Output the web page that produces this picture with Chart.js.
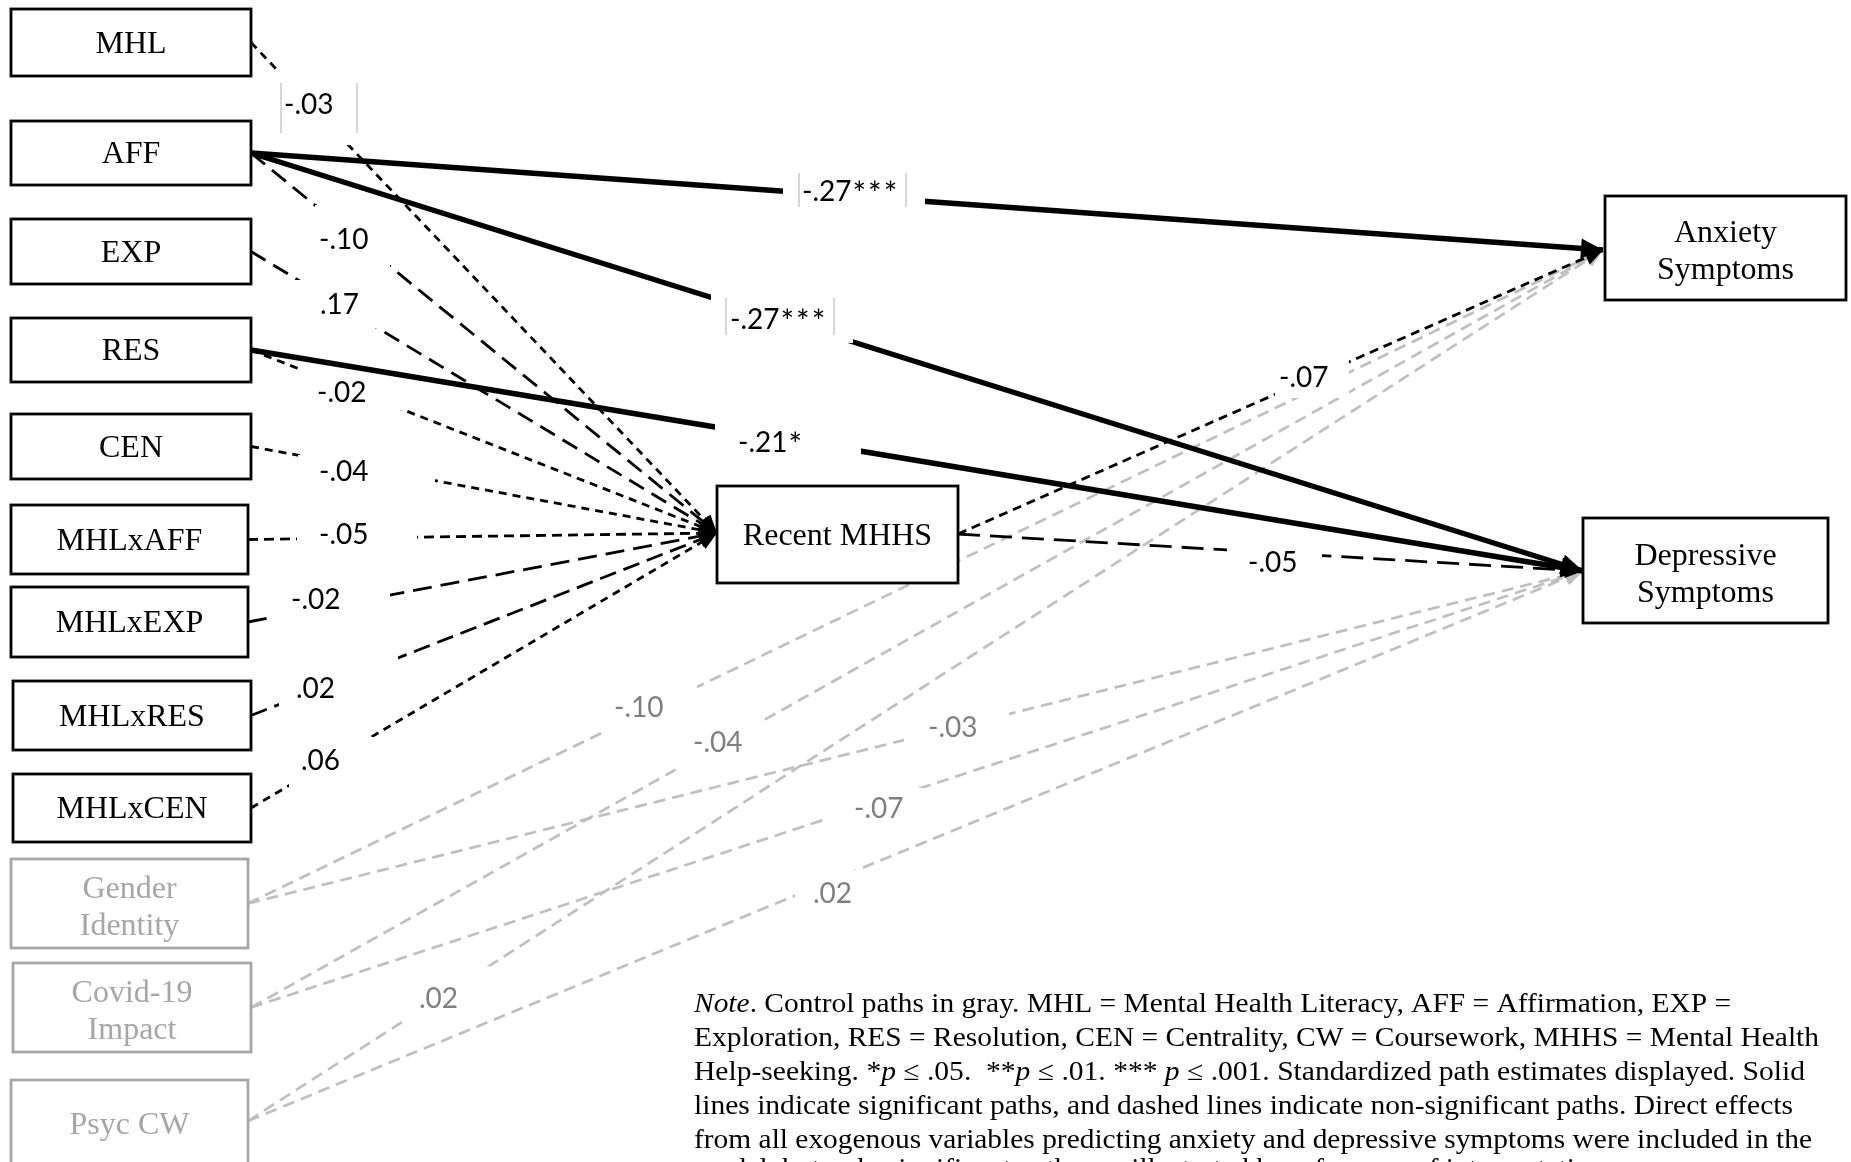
<!DOCTYPE html>
<html><head><meta charset="utf-8">
<script src="https://cdn.jsdelivr.net/npm/chart.js@4.4.1/dist/chart.umd.min.js"></script>
<style>html,body{margin:0;padding:0;background:#fff;overflow:hidden}canvas{display:block}</style>
</head><body>
<canvas id="c" width="1851" height="1162"></canvas>
<script>
// ---------------- DATA ----------------
const predictors = ['MHL','AFF','EXP','RES','CEN','MHLxAFF','MHLxEXP','MHLxRES','MHLxCEN'];
const predictorToMHHS = ['-.03','-.10','.17','-.02','-.04','-.05','-.02','.02','.06'];
const mediator = 'Recent MHHS';
const outcomes = ['Anxiety Symptoms','Depressive Symptoms'];
const mediatorToOutcome = ['-.07','-.05'];
const sigFrom = ['AFF','AFF','RES'];
const sigTo = ['Anxiety Symptoms','Depressive Symptoms','Depressive Symptoms'];
const sigEstimate = ['-.27***','-.27***','-.21*'];
const controls = ['Gender Identity','Covid-19 Impact','Psyc CW'];
const controlToAnxiety = ['-.10','-.04','.02'];
const controlToDepression = ['-.03','-.07','.02'];
const noteLines = [
  '<i>Note</i>. Control paths in gray. MHL = Mental Health Literacy, AFF = Affirmation, EXP =',
  'Exploration, RES = Resolution, CEN = Centrality, CW = Coursework, MHHS = Mental Health',
  'Help-seeking. *<i>p</i> ≤ .05.  **<i>p</i> ≤ .01. *** <i>p</i> ≤ .001. Standardized path estimates displayed. Solid',
  'lines indicate significant paths, and dashed lines indicate non-significant paths. Direct effects',
  'from all exogenous variables predicting anxiety and depressive symptoms were included in the',
  'model, but only significant paths are illustrated here for ease of interpretation.'
];

// ---------------- LAYOUT (positions / styles) ----------------
const nodeBox = {
  'MHL':[11,9,251,76], 'AFF':[11,121,251,185], 'EXP':[11,219,251,284], 'RES':[11,318,251,382],
  'CEN':[11,414,251,479], 'MHLxAFF':[11,505,248,574], 'MHLxEXP':[11,587,248,657],
  'MHLxRES':[13,681,251,750], 'MHLxCEN':[13,774,251,842],
  'Gender Identity':[11,859,248,948], 'Covid-19 Impact':[13,963,251,1052], 'Psyc CW':[11,1080,248,1178],
  'Recent MHHS':[717,486,958,583], 'Anxiety Symptoms':[1605,196,1846,300], 'Depressive Symptoms':[1583,518,1828,623]
};
const twoLineNodes = ['Gender Identity','Covid-19 Impact','Anxiety Symptoms','Depressive Symptoms'];
const sourceAnchor = {'Psyc CW':[248,1121], 'Recent MHHS':[958,534]};
const targetAnchor = {'Recent MHHS':[717,533], 'Anxiety Symptoms':[1603,250], 'Depressive Symptoms':[1583,571]};
// label knock-out box [x0,y0,x1,y1], text left x, text center y, optional frame bars
const labelPos = {
  'MHL>Recent MHHS':{box:[279,70,359,145],t:[284,105],bars:[281,357,83,133]},
  'AFF>Recent MHHS':{box:[315,205,390,268],t:[319,240]},
  'EXP>Recent MHHS':{box:[292,280,380,328],t:[320,305]},
  'RES>Recent MHHS':{box:[298,366,415,410],t:[317,393]},
  'CEN>Recent MHHS':{box:[298,455,435,490],t:[319,472]},
  'MHLxAFF>Recent MHHS':{box:[297,518,417,552],t:[319,535]},
  'MHLxEXP>Recent MHHS':{box:[270,584,390,622],t:[291,600]},
  'MHLxRES>Recent MHHS':{box:[279,655,398,706],t:[296,689]},
  'MHLxCEN>Recent MHHS':{box:[289,737,374,787],t:[301,761]},
  'AFF>Anxiety Symptoms':{box:[783,168,925,212],t:[802,192],bars:[799,906,173,207]},
  'AFF>Depressive Symptoms':{box:[711,294,853,343],t:[730,320],bars:[726,834,298,335]},
  'RES>Depressive Symptoms':{box:[715,420,861,463],t:[738,443]},
  'Recent MHHS>Anxiety Symptoms':{box:[1275,358,1349,398],t:[1279,378]},
  'Recent MHHS>Depressive Symptoms':{box:[1227,540,1322,580],t:[1248,563]},
  'Gender Identity>Anxiety Symptoms':{box:[600,685,697,732],t:[614,708]},
  'Covid-19 Impact>Anxiety Symptoms':{box:[675,722,762,770],t:[693,743]},
  'Psyc CW>Anxiety Symptoms':{box:[407,966,490,1020],t:[419,999]},
  'Gender Identity>Depressive Symptoms':{box:[904,708,1009,745],t:[928,728]},
  'Covid-19 Impact>Depressive Symptoms':{box:[828,788,925,828],t:[854,809]},
  'Psyc CW>Depressive Symptoms':{box:[795,870,875,915],t:[813,894]}
};
const dashStyle = {
  'MHL>Recent MHHS':[8,6], 'AFF>Recent MHHS':[18,9], 'EXP>Recent MHHS':[17,9], 'RES>Recent MHHS':[8,6],
  'CEN>Recent MHHS':[8,6], 'MHLxAFF>Recent MHHS':[10,6], 'MHLxEXP>Recent MHHS':[19,9],
  'MHLxRES>Recent MHHS':[17,8], 'MHLxCEN>Recent MHHS':[8,6],
  'Recent MHHS>Anxiety Symptoms':[9,6], 'Recent MHHS>Depressive Symptoms':[22,10]
};
const GRAY_LINE = '#bfbfbf', GRAY_LABEL = '#7f7f7f', GRAY_NODE = '#a6a6a6';

// ---------------- BUILD PATHS ----------------
const paths = [];
predictors.forEach((p,i)=>paths.push({from:p,to:mediator,est:predictorToMHHS[i],kind:'ns'}));
outcomes.forEach((o,i)=>paths.push({from:mediator,to:o,est:mediatorToOutcome[i],kind:'ns'}));
sigFrom.forEach((f,i)=>paths.push({from:f,to:sigTo[i],est:sigEstimate[i],kind:'sig'}));
controls.forEach((c,i)=>{
  paths.push({from:c,to:outcomes[0],est:controlToAnxiety[i],kind:'ctrl'});
  paths.push({from:c,to:outcomes[1],est:controlToDepression[i],kind:'ctrl'});
});
function srcPt(n){ if(sourceAnchor[n]) return sourceAnchor[n]; const b=nodeBox[n]; return [b[2],(b[1]+b[3])/2]; }
function tgtPt(n){ return targetAnchor[n]; }

const datasets = paths.map(p=>{
  const a=srcPt(p.from), b=tgtPt(p.to), key=p.from+'>'+p.to;
  return {
    label:key, pathKey:key, kind:p.kind, est:p.est,
    data:[{x:a[0],y:a[1]},{x:b[0],y:b[1]}],
    showLine:true, pointRadius:0, pointHoverRadius:0, fill:false, tension:0,
    borderColor: p.kind==='ctrl'?GRAY_LINE:'#000',
    borderWidth: p.kind==='sig'?5.5:(p.kind==='ctrl'?2.7:2.8),
    borderDash: p.kind==='sig'?[]:(p.kind==='ctrl'?[12,7]:dashStyle[key]),
    borderCapStyle:'butt',
    order: p.kind==='sig'?1:(p.kind==='ns'?2:3)
  };
});

// ---------------- PLUGIN ----------------
function pxX(c,v){return c.scales.x.getPixelForValue(v);}
function pxY(c,v){return c.scales.y.getPixelForValue(v);}
function drawRich(ctx,line,x,y,targetW,size,kFixed){
  const parts=line.split(/(<i>.*?<\/i>)/).filter(s=>s.length).map(s=>s.startsWith('<i>')?{t:s.slice(3,-4),i:true}:{t:s,i:false});
  let w=0;
  parts.forEach(p=>{ctx.font=(p.i?'italic ':'')+size+'px "Liberation Serif"';p.w=ctx.measureText(p.t).width;w+=p.w;});
  const k=kFixed||(targetW?targetW/w:1);
  ctx.save();ctx.translate(x,y);ctx.scale(k,1);
  let cx=0;
  parts.forEach(p=>{ctx.font=(p.i?'italic ':'')+size+'px "Liberation Serif"';ctx.fillText(p.t,cx,0);cx+=p.w;});
  ctx.restore();
  return k;
}
function drawEstimate(ctx,txt,x,y){
  // numeric part in regular size, significance stars slightly larger
  const m=txt.match(/^([^*]*)(\**)$/);
  ctx.font='28px Lato';
  ctx.fillText(m[1],x,y);
  let cx=x+ctx.measureText(m[1]).width+1;
  ctx.font='32px Lato';
  for(const s of m[2]){ ctx.fillText(s,cx,y+3); cx+=ctx.measureText(s).width+2; }
}
const diagram = {
  id:'diagram',
  afterDatasetDraw(chart,args){
    const ds=chart.data.datasets[args.index], ctx=chart.ctx;
    const lp=labelPos[ds.pathKey];
    ctx.save();
    if(lp){
      const b=lp.box;
      ctx.fillStyle='#fff';
      ctx.fillRect(pxX(chart,b[0]),pxY(chart,b[1]),pxX(chart,b[2])-pxX(chart,b[0]),pxY(chart,b[3])-pxY(chart,b[1]));
    }
    // arrowhead
    const p0=ds.data[0],p1=ds.data[1];
    const x0=pxX(chart,p0.x),y0=pxY(chart,p0.y),x1=pxX(chart,p1.x),y1=pxY(chart,p1.y);
    const ang=Math.atan2(y1-y0,x1-x0);
    const L=ds.kind==='sig'?22:18, W=ds.kind==='sig'?10:8;
    ctx.fillStyle=ds.borderColor;
    ctx.beginPath();
    ctx.moveTo(x1,y1);
    ctx.lineTo(x1-L*Math.cos(ang)+W*Math.sin(ang),y1-L*Math.sin(ang)-W*Math.cos(ang));
    ctx.lineTo(x1-L*Math.cos(ang)-W*Math.sin(ang),y1-L*Math.sin(ang)+W*Math.cos(ang));
    ctx.closePath();ctx.fill();
    ctx.restore();
  },
  afterDatasetsDraw(chart){
    const ctx=chart.ctx;
    ctx.save();
    // nodes
    Object.keys(nodeBox).forEach(n=>{
      const b=nodeBox[n];
      const x0=pxX(chart,b[0]),y0=pxY(chart,b[1]),x1=pxX(chart,b[2]),y1=pxY(chart,b[3]);
      const isCtrl=controls.includes(n);
      ctx.fillStyle='#fff';ctx.fillRect(x0,y0,x1-x0,y1-y0);
      ctx.strokeStyle=isCtrl?GRAY_NODE:'#000';ctx.lineWidth=2.8;
      ctx.strokeRect(x0,y0,x1-x0,y1-y0);
      ctx.fillStyle=isCtrl?GRAY_NODE:'#000';
      ctx.font='32px "Liberation Serif"';ctx.textAlign='center';ctx.textBaseline='alphabetic';
      const cx=(x0+x1)/2, cy=(y0+y1)/2;
      if(twoLineNodes.includes(n)){
        const i=n.indexOf(' ');
        ctx.save();ctx.beginPath();ctx.rect(x0,y0,x1-x0,y1-y0);ctx.clip();
        ctx.fillText(n.slice(0,i),cx,cy-6);
        ctx.fillText(n.slice(i+1),cx,cy+31);
        ctx.restore();
      } else if(n==='Psyc CW'){
        ctx.fillText(n,cx,1134);
      } else {
        ctx.fillText(n,cx,cy+10);
      }
    });
    // path labels
    chart.data.datasets.forEach(ds=>{
      const lp=labelPos[ds.pathKey]; if(!lp) return;
      if(lp.bars){
        ctx.strokeStyle='#c8c8c8';ctx.lineWidth=1.5;
        [lp.bars[0],lp.bars[1]].forEach(bx=>{ctx.beginPath();ctx.moveTo(pxX(chart,bx),pxY(chart,lp.bars[2]));ctx.lineTo(pxX(chart,bx),pxY(chart,lp.bars[3]));ctx.stroke();});
      }
      ctx.fillStyle=ds.kind==='ctrl'?GRAY_LABEL:'#000';
      ctx.textAlign='left';ctx.textBaseline='middle';
      drawEstimate(ctx,ds.est,pxX(chart,lp.t[0]),pxY(chart,lp.t[1]));
    });
    // note
    ctx.fillStyle='#000';ctx.textAlign='left';ctx.textBaseline='alphabetic';
    const ends=[1731,1819,1805,1793,1812];
    let k=1;
    noteLines.forEach((ln,i)=>{
      const y=i<5?1012+i*34:1177;
      if(i<ends.length) k=drawRich(ctx,ln,694,y,ends[i]-694,27);
      else drawRich(ctx,ln,694,y,null,27,k);
    });
    ctx.restore();
  }
};

new Chart(document.getElementById('c'),{
  type:'scatter',
  data:{datasets},
  options:{
    responsive:false, animation:false, events:[],
    layout:{padding:0},
    scales:{
      x:{type:'linear',min:0,max:1851,display:false},
      y:{type:'linear',min:0,max:1162,reverse:true,display:false}
    },
    plugins:{legend:{display:false},tooltip:{enabled:false}}
  },
  plugins:[diagram]
});
</script>
</body></html>
